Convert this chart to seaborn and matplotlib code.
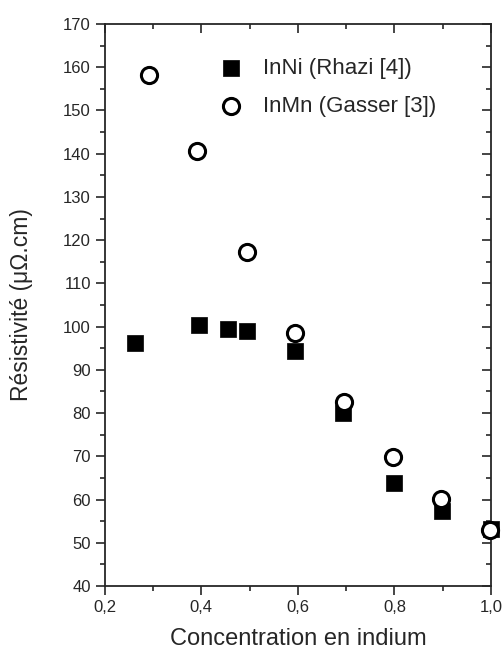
import pandas as pd
import numpy as np
import matplotlib
matplotlib.use("Agg")
import matplotlib.pyplot as plt
import seaborn as sns
from matplotlib.ticker import MultipleLocator

# ---------------------------------
# Data
# ---------------------------------
conc_inni = [0.262, 0.395, 0.455, 0.494, 0.594, 0.693, 0.799, 0.899, 1.0]
rho_inni = [96.2, 100.4, 99.5, 99.0, 94.4, 80.0, 63.8, 57.4, 53.3]

conc_inmn = [0.291, 0.391, 0.494, 0.594, 0.695, 0.797, 0.897, 0.998]
rho_inmn = [158.3, 140.7, 117.3, 98.6, 82.6, 69.9, 60.1, 53.0]

label_inni = "InNi (Rhazi [4])"
label_inmn = "InMn (Gasser [3])"

df = pd.concat([
    pd.DataFrame({"conc": conc_inni, "rho": rho_inni, "serie": label_inni}),
    pd.DataFrame({"conc": conc_inmn, "rho": rho_inmn, "serie": label_inmn}),
])

# ---------------------------------
# Plot
# ---------------------------------
sns.set_style("ticks")
plt.rcParams['font.family'] = ['Liberation Sans', 'DejaVu Sans']

fig = plt.figure(figsize=(5.04, 6.49), dpi=100)
ax = fig.add_axes([0.208, 0.097, 0.766, 0.866])

sns.scatterplot(
    data=df[df["serie"] == label_inni], x="conc", y="rho",
    marker="s", s=125, color="black", edgecolor="black", linewidth=0.5,
    label=label_inni, ax=ax, clip_on=False, zorder=3
)
sns.scatterplot(
    data=df[df["serie"] == label_inmn], x="conc", y="rho",
    marker="o", s=135, facecolor="white", edgecolor="black", linewidth=2.2,
    label=label_inmn, ax=ax, clip_on=False, zorder=4
)

ax.set_xlim(0.2, 1.0)
ax.set_ylim(40, 170)
ax.xaxis.set_major_locator(MultipleLocator(0.2))
ax.xaxis.set_minor_locator(MultipleLocator(0.1))
ax.yaxis.set_major_locator(MultipleLocator(10))
ax.yaxis.set_minor_locator(MultipleLocator(5))
ax.set_xticklabels([f"{v:.1f}".replace(".", ",") for v in ax.get_xticks()])

ax.tick_params(which="both", top=True, right=True, direction="out",
               labelsize=12, width=1.2)
ax.tick_params(which="major", length=6.5)
ax.tick_params(which="minor", length=3.5)
# top and right ticks point inward
for t in ax.xaxis.get_major_ticks() + ax.xaxis.get_minor_ticks():
    t.tick2line.set_marker(3)
for t in ax.yaxis.get_major_ticks() + ax.yaxis.get_minor_ticks():
    t.tick2line.set_marker(0)

for sp in ax.spines.values():
    sp.set_linewidth(1.3)

ax.set_xlabel("Concentration en indium", fontsize=17, va="top")
ax.xaxis.set_label_coords(0.5, -0.074)
ax.set_ylabel("Résistivité (μΩ.cm)", fontsize=16.5)
ax.yaxis.set_label_coords(-0.185, 0.5)

ax.legend(loc="upper left", bbox_to_anchor=(0.218, 0.975), frameon=False,
          fontsize=16, handlelength=2.0, handletextpad=0.45,
          labelspacing=0.75, borderpad=0.4)

fig.savefig("out.png", dpi=100)
